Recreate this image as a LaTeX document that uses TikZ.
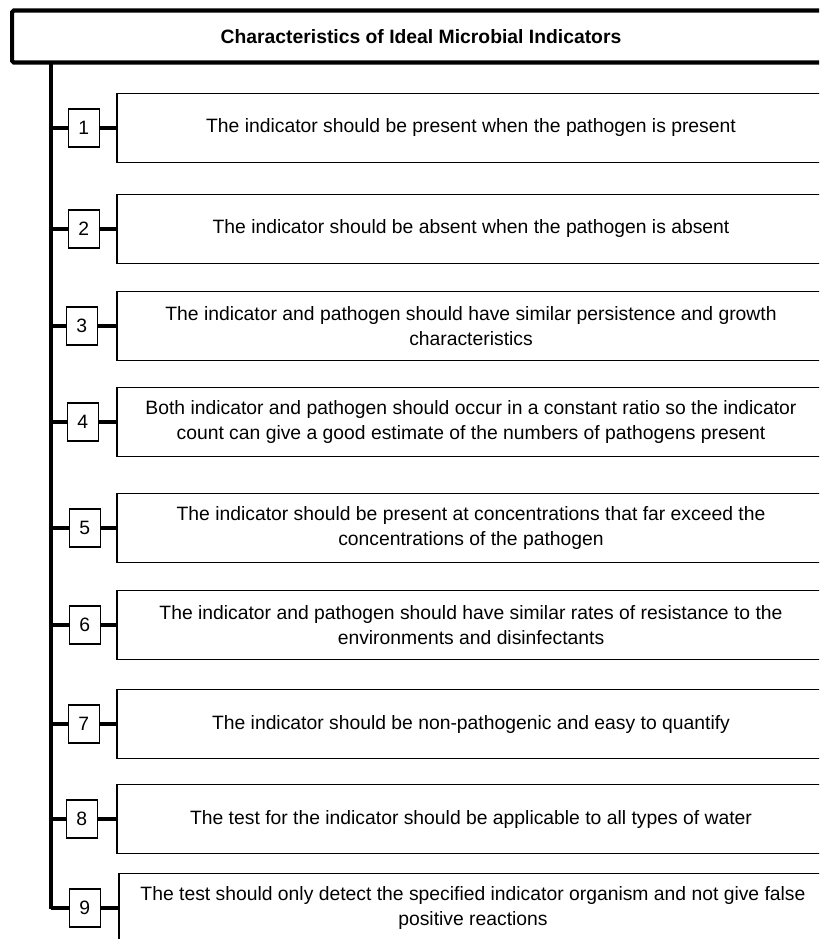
\documentclass[tikz,border=0pt]{standalone}
\usepackage{fontspec}
\setmainfont{Liberation Sans}
\usetikzlibrary{positioning}

\tikzset{
  headbox/.style={draw, line width=2.3pt, rounded corners=1pt, minimum width=16.36cm, minimum height=1.04cm, inner sep=0pt, font=\bfseries\fontsize{11}{13}\selectfont},
  itembox/.style={draw, line width=1.1pt, minimum width=14.16cm, minimum height=1.38cm, inner sep=0pt, align=center, font=\fontsize{11}{14.2}\selectfont},
  numbox/.style={draw, line width=0.9pt, fill=white, minimum width=0.62cm, minimum height=0.77cm, inner sep=0pt, font=\fontsize{11}{13}\selectfont},
  link/.style={line width=2.8pt},
}

\begin{document}
\begin{tikzpicture}[x=0.02cm,y=-0.02cm]
	\useasboundingbox (0,0) rectangle (819,939);
	\clip (0,0) rectangle (819,939);

	\node[headbox] (title) at (421,36.5) {Characteristics of Ideal Microbial Indicators};

	% criteria
	\node[itembox] (t1) at (471,128) {The indicator should be present when the pathogen is present};
	\node[itembox] (t2) at (471,229) {The indicator should be absent when the pathogen is absent};
	\node[itembox] (t3) at (471,326) {The indicator and pathogen should have similar persistence and growth\\characteristics};
	\node[itembox] (t4) at (471,422) {Both indicator and pathogen should occur in a constant ratio so the indicator\\count can give a good estimate of the numbers of pathogens present};
	\node[itembox] (t5) at (471,528) {The indicator should be present at concentrations that far exceed the\\concentrations of the pathogen};
	\node[itembox] (t6) at (471,625) {The indicator and pathogen should have similar rates of resistance to the\\environments and disinfectants};
	\node[itembox] (t7) at (471,724) {The indicator should be non-pathogenic and easy to quantify};
	\node[itembox] (t8) at (471,819) {The test for the indicator should be applicable to all types of water};
	\node[itembox] (t9) at (473,908) {The test should only detect the specified indicator organism and not give false\\positive reactions};

	% numbers
	\node[numbox, left=0.32cm of t1] (n1) {1};
	\node[numbox, left=0.32cm of t2] (n2) {2};
	\node[numbox, left=0.36cm of t3] (n3) {3};
	\node[numbox, left=0.34cm of t4] (n4) {4};
	\node[numbox, left=0.30cm of t5] (n5) {5};
	\node[numbox, left=0.30cm of t6] (n6) {6};
	\node[numbox, left=0.32cm of t7] (n7) {7};
	\node[numbox, left=0.36cm of t8] (n8) {8};
	\node[numbox, left=0.34cm of t9] (n9) {9};

	% spine
	\coordinate (spinetop) at (51,63);
	\coordinate (spineend) at (51,909);
	\draw[link] (spinetop) -- (spineend);

	\draw[link] (n1 -| spinetop) -- (n1.west);
	\draw[link] (n1.east) -- (t1.west);
	\draw[link] (n2 -| spinetop) -- (n2.west);
	\draw[link] (n2.east) -- (t2.west);
	\draw[link] (n3 -| spinetop) -- (n3.west);
	\draw[link] (n3.east) -- (t3.west);
	\draw[link] (n4 -| spinetop) -- (n4.west);
	\draw[link] (n4.east) -- (t4.west);
	\draw[link] (n5 -| spinetop) -- (n5.west);
	\draw[link] (n5.east) -- (t5.west);
	\draw[link] (n6 -| spinetop) -- (n6.west);
	\draw[link] (n6.east) -- (t6.west);
	\draw[link] (n7 -| spinetop) -- (n7.west);
	\draw[link] (n7.east) -- (t7.west);
	\draw[link] (n8 -| spinetop) -- (n8.west);
	\draw[link] (n8.east) -- (t8.west);
	\draw[link] (n9 -| spinetop) -- (n9.west);
	\draw[link] (n9.east) -- (t9.west);
\end{tikzpicture}
\end{document}
